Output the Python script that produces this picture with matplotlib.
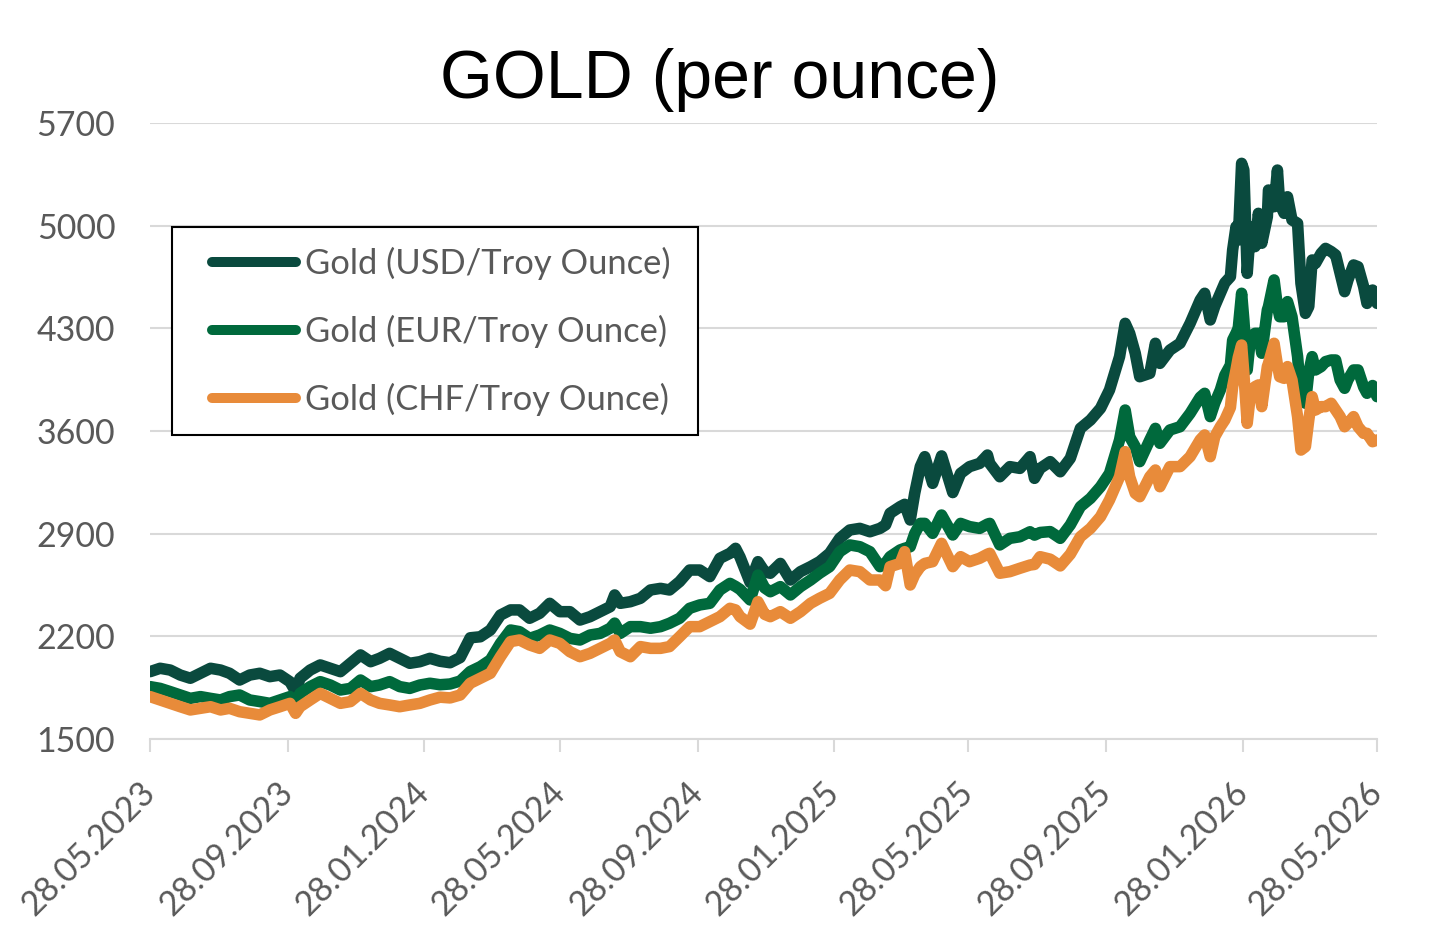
import pandas as pd
import matplotlib
matplotlib.use("Agg")
import matplotlib.pyplot as plt
import matplotlib.dates as mdates
from matplotlib.patches import Rectangle

# values (price per troy ounce)
DATES = [
    "2023-05-28", "2023-06-06", "2023-06-15", "2023-06-24", "2023-07-03", "2023-07-12",
    "2023-07-21", "2023-07-30", "2023-08-07", "2023-08-16", "2023-08-25", "2023-09-03",
    "2023-09-12", "2023-09-21", "2023-09-30", "2023-10-05", "2023-10-09", "2023-10-18",
    "2023-10-27", "2023-11-05", "2023-11-14", "2023-11-23", "2023-12-02", "2023-12-11",
    "2023-12-19", "2023-12-28", "2024-01-06", "2024-01-15", "2024-01-24", "2024-02-02",
    "2024-02-11", "2024-02-20", "2024-02-29", "2024-03-09", "2024-03-18", "2024-03-27",
    "2024-04-05", "2024-04-14", "2024-04-22", "2024-05-01", "2024-05-10", "2024-05-19",
    "2024-05-28", "2024-06-06", "2024-06-15", "2024-06-24", "2024-07-03", "2024-07-12",
    "2024-07-16", "2024-07-21", "2024-07-30", "2024-08-08", "2024-08-17", "2024-08-26",
    "2024-09-03", "2024-09-12", "2024-09-21", "2024-09-30", "2024-10-09", "2024-10-18",
    "2024-10-27", "2024-11-01", "2024-11-05", "2024-11-14", "2024-11-21", "2024-11-27",
    "2024-12-02", "2024-12-11", "2024-12-20", "2024-12-29", "2025-01-07", "2025-01-15",
    "2025-01-24", "2025-02-02", "2025-02-11", "2025-02-20", "2025-03-01", "2025-03-10",
    "2025-03-15", "2025-03-19", "2025-03-28", "2025-04-01", "2025-04-06", "2025-04-10",
    "2025-04-15", "2025-04-19", "2025-04-26", "2025-05-04", "2025-05-14", "2025-05-21",
    "2025-05-29", "2025-06-07", "2025-06-14", "2025-06-16", "2025-06-25", "2025-07-04",
    "2025-07-13", "2025-07-22", "2025-07-26", "2025-07-31", "2025-08-09", "2025-08-18",
    "2025-08-27", "2025-09-05", "2025-09-14", "2025-09-23", "2025-10-01", "2025-10-10",
    "2025-10-15", "2025-10-19", "2025-10-24", "2025-10-28", "2025-11-06", "2025-11-11",
    "2025-11-15", "2025-11-24", "2025-12-03", "2025-12-12", "2025-12-21", "2025-12-25",
    "2025-12-30", "2026-01-03", "2026-01-08", "2026-01-12", "2026-01-17", "2026-01-19",
    "2026-01-22", "2026-01-24", "2026-01-27", "2026-01-29", "2026-02-01", "2026-02-04",
    "2026-02-08", "2026-02-11", "2026-02-14", "2026-02-19", "2026-02-20", "2026-02-25",
    "2026-02-28", "2026-03-02", "2026-03-06", "2026-03-09", "2026-03-13", "2026-03-18",
    "2026-03-21", "2026-03-25", "2026-03-28", "2026-03-31", "2026-04-03", "2026-04-08",
    "2026-04-12", "2026-04-17", "2026-04-21", "2026-04-25", "2026-04-29", "2026-05-02",
    "2026-05-07", "2026-05-11", "2026-05-16", "2026-05-19", "2026-05-24", "2026-05-28",
]

USD = [
    1959, 1982, 1970, 1936, 1914, 1948, 1982, 1970, 1948, 1902, 1936, 1948,
    1925, 1936, 1890, 1823, 1914, 1970, 2005, 1982, 1959, 2016, 2073, 2027,
    2050, 2084, 2050, 2016, 2027, 2050, 2030, 2020, 2055, 2190, 2197, 2243,
    2345, 2380, 2380, 2323, 2357, 2425, 2368, 2368, 2311, 2334, 2368, 2402,
    2482, 2425, 2436, 2459, 2516, 2527, 2516, 2573, 2652, 2652, 2607, 2732,
    2766, 2800, 2740, 2567, 2709, 2640, 2630, 2697, 2584, 2641, 2675, 2709,
    2766, 2868, 2925, 2936, 2913, 2936, 2960, 3039, 3084, 3100, 2993, 3175,
    3357, 3425, 3243, 3430, 3180, 3311, 3357, 3379, 3436, 3379, 3288, 3357,
    3345, 3425, 3277, 3345, 3391, 3322, 3414, 3618, 3675, 3755, 3880, 4107,
    4334, 4266, 4130, 3970, 3993, 4198, 4061, 4152, 4198, 4334, 4493, 4539,
    4357, 4450, 4539, 4610, 4652, 4834, 4993, 4902, 5425, 5379, 4675, 4993,
    4857, 5084, 4880, 5061, 5243, 5129, 5379, 5150, 5084, 5197, 5039, 5016,
    4607, 4402, 4448, 4766, 4743, 4811, 4845, 4823, 4800, 4675, 4550, 4630,
    4732, 4720, 4584, 4470, 4561, 4470,
]

EUR = [
    1857, 1845, 1823, 1800, 1777, 1789, 1777, 1766, 1789, 1800, 1766, 1755,
    1743, 1766, 1789, 1743, 1811, 1857, 1891, 1868, 1834, 1845, 1902, 1857,
    1868, 1891, 1857, 1845, 1868, 1880, 1870, 1875, 1895, 1960, 1993, 2039,
    2152, 2243, 2232, 2186, 2209, 2243, 2220, 2186, 2175, 2209, 2220, 2255,
    2290, 2220, 2266, 2266, 2255, 2266, 2289, 2323, 2391, 2414, 2425, 2516,
    2561, 2540, 2520, 2448, 2618, 2530, 2504, 2539, 2482, 2539, 2584, 2630,
    2675, 2777, 2823, 2811, 2777, 2675, 2700, 2743, 2789, 2800, 2811, 2900,
    2970, 2970, 2902, 3027, 2891, 2970, 2948, 2936, 2965, 2970, 2823, 2868,
    2879, 2913, 2890, 2908, 2914, 2868, 2960, 3084, 3141, 3220, 3311, 3539,
    3743, 3561, 3493, 3391, 3539, 3618, 3516, 3607, 3629, 3720, 3830, 3857,
    3698, 3790, 3880, 3980, 4050, 4220, 4266, 4300, 4539, 4357, 4016, 4243,
    4266, 4266, 4130, 4425, 4448, 4630, 4450, 4379, 4379, 4482, 4379, 4107,
    3834, 3789, 4000, 4107, 4016, 4039, 4073, 4084, 4084, 3948, 3891, 3950,
    4016, 4016, 3900, 3857, 3910, 3834,
]

CHF = [
    1789, 1766, 1743, 1720, 1698, 1709, 1720, 1698, 1709, 1686, 1675, 1664,
    1698, 1720, 1743, 1675, 1720, 1766, 1811, 1777, 1743, 1755, 1811, 1766,
    1743, 1732, 1720, 1732, 1743, 1766, 1785, 1780, 1800, 1880, 1914, 1948,
    2061, 2164, 2175, 2141, 2118, 2175, 2152, 2095, 2061, 2084, 2118, 2152,
    2175, 2095, 2061, 2130, 2118, 2118, 2130, 2197, 2266, 2266, 2300, 2334,
    2391, 2380, 2334, 2283, 2436, 2350, 2334, 2368, 2323, 2368, 2425, 2459,
    2493, 2584, 2652, 2641, 2584, 2584, 2545, 2675, 2697, 2777, 2550, 2620,
    2675, 2697, 2709, 2834, 2675, 2743, 2709, 2732, 2760, 2766, 2630, 2641,
    2664, 2686, 2690, 2743, 2726, 2680, 2760, 2879, 2936, 3016, 3130, 3288,
    3459, 3288, 3175, 3152, 3288, 3334, 3220, 3357, 3357, 3425, 3540, 3573,
    3425, 3561, 3629, 3675, 3760, 3902, 4016, 4100, 4186, 3993, 3652, 3857,
    3902, 3914, 3766, 4039, 4061, 4198, 4050, 3970, 3959, 4039, 3948, 3698,
    3470, 3493, 3675, 3834, 3743, 3766, 3766, 3789, 3743, 3698, 3629, 3652,
    3698, 3629, 3584, 3584, 3527, 3539,
]

TICK_DATES = ["2023-05-28", "2023-09-28", "2024-01-28", "2024-05-28", "2024-09-28",
              "2025-01-28", "2025-05-28", "2025-09-28", "2026-01-28", "2026-05-28"]
Y_TICKS = [1500, 2200, 2900, 3600, 4300, 5000, 5700]

SERIES = [("Gold (USD/Troy Ounce)", USD, "#0A4A3E"),
          ("Gold (EUR/Troy Ounce)", EUR, "#00693C"),
          ("Gold (CHF/Troy Ounce)", CHF, "#E88B3A")]

GRID = "#D9D9D9"
TXT = "#595959"
plt.rcParams["font.family"] = ["Lato", "DejaVu Sans"]

dates = pd.to_datetime(DATES)
ticks = pd.to_datetime(TICK_DATES)

fig = plt.figure(figsize=(14.4, 9.49), dpi=100)
ax = fig.add_axes([0.1042, 0.2213, 0.8521, 0.6491])

for label, vals, col in SERIES:
    ax.plot(dates, vals, color=col, lw=8.3, label=label,
            solid_joinstyle="round", solid_capstyle="round")

ax.set_xlim(ticks[0], ticks[-1])
ax.set_ylim(Y_TICKS[0], Y_TICKS[-1])
ax.set_yticks(Y_TICKS)
ax.set_xticks(ticks)
ax.xaxis.set_major_formatter(mdates.DateFormatter("%d.%m.%Y"))

ax.grid(axis="y", color=GRID, lw=1.5)
ax.set_axisbelow(True)
for s in ("top", "right", "left"):
    ax.spines[s].set_visible(False)
ax.spines["bottom"].set_color(GRID)
ax.spines["bottom"].set_linewidth(1.5)

ax.tick_params(axis="y", length=0, pad=25, labelsize=24.5, labelcolor=TXT)
ax.tick_params(axis="x", length=9, width=1.5, color=GRID, pad=26,
               labelsize=24.5, labelcolor=TXT)
for t in ax.get_xticklabels():
    t.set_rotation(45)
    t.set_rotation_mode("anchor")
    t.set_ha("right")
    t.set_va("center")

# legend box drawn separately so its padding can match the original
ax.add_patch(Rectangle((0.0179, 0.4935), 0.4287, 0.3377, transform=ax.transAxes,
                       facecolor="white", edgecolor="black", lw=1.5, zorder=5))
leg = ax.legend(loc="upper left", bbox_to_anchor=(0.0505, 0.799), fontsize=24.8,
                frameon=False, handlelength=2.45, handletextpad=0.25,
                labelspacing=1.02, borderpad=0, borderaxespad=0)
leg.set_zorder(6)
for t in leg.get_texts():
    t.set_color(TXT)
for ln in leg.get_lines():
    ln.set_linewidth(7.2)

fig.text(0.5, 0.8967, "GOLD (per ounce)", ha="center", va="baseline",
         fontsize=49, family="Liberation Sans", color="black")

fig.savefig("out.png", dpi=100, facecolor="white")
